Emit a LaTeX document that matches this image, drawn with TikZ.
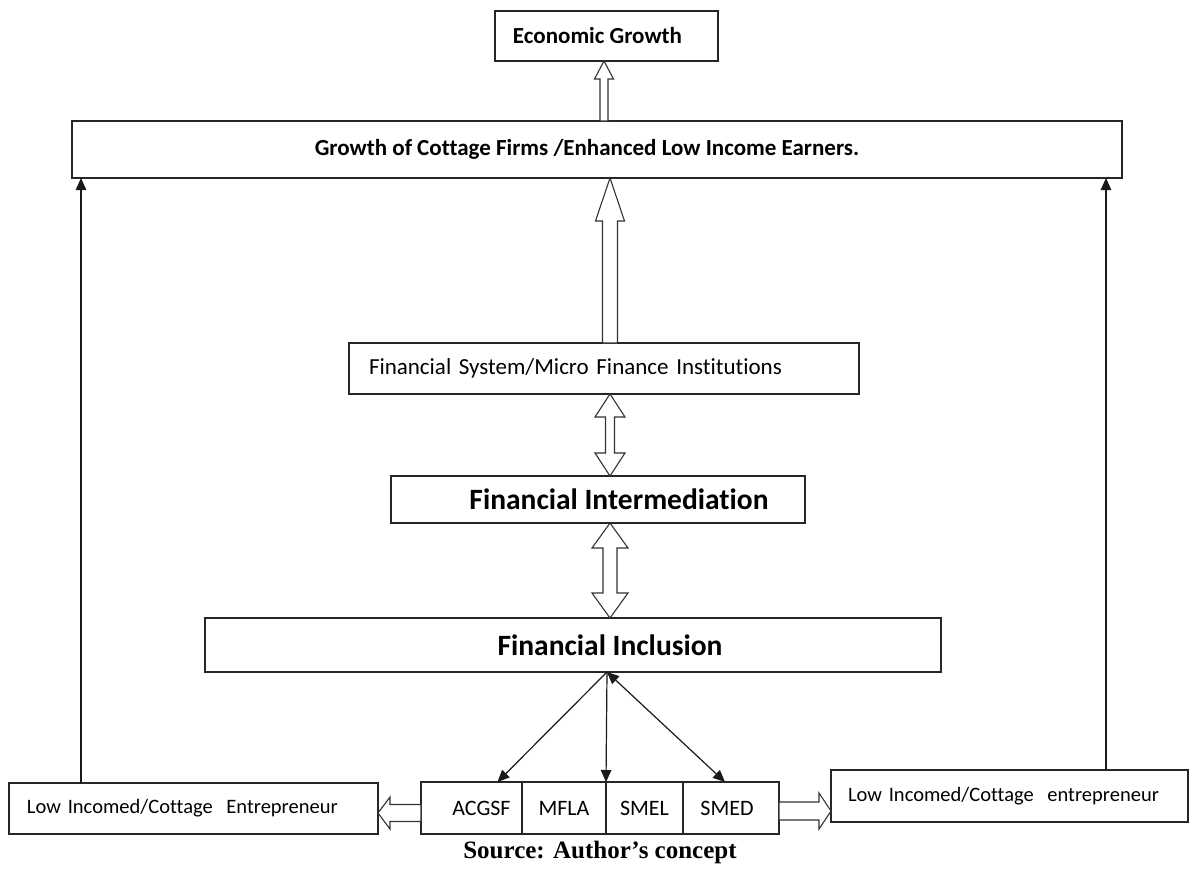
\documentclass[tikz,border=0pt]{standalone}
\usepackage{fontspec}
\setmainfont{Carlito}[Ligatures=NoCommon]
\newfontfamily\srcfont{Liberation Serif}
\usetikzlibrary{arrows.meta,positioning,calc}

\tikzset{hollow/.style={draw=black!80, fill=white, line width=1.1pt, line join=miter}}

% block arrows: #1 tail, #2 tip, #3 half shaft, #4 half head, #5 head length
\newcommand{\upblock}[5]{%
  \draw[hollow] let \p1=(#1), \p2=(#2) in
    (\x1-#3pt,\y1) -- (\x1-#3pt,\y2-#5pt) -- (\x1-#4pt,\y2-#5pt) -- (\x1,\y2)
    -- (\x1+#4pt,\y2-#5pt) -- (\x1+#3pt,\y2-#5pt) -- (\x1+#3pt,\y1) -- cycle;}
\newcommand{\updownblock}[5]{%
  \draw[hollow] let \p1=(#1), \p2=(#2) in
    (\x1,\y1) -- (\x1-#4pt,\y1+#5pt) -- (\x1-#3pt,\y1+#5pt) -- (\x1-#3pt,\y2-#5pt)
    -- (\x1-#4pt,\y2-#5pt) -- (\x1,\y2) -- (\x1+#4pt,\y2-#5pt) -- (\x1+#3pt,\y2-#5pt)
    -- (\x1+#3pt,\y1+#5pt) -- (\x1+#4pt,\y1+#5pt) -- cycle;}
\newcommand{\leftblock}[5]{%
  \draw[hollow] let \p1=(#1), \p2=(#2) in
    (\x1,\y1-#3pt) -- (\x2+#5pt,\y1-#3pt) -- (\x2+#5pt,\y1-#4pt) -- (\x2,\y1)
    -- (\x2+#5pt,\y1+#4pt) -- (\x2+#5pt,\y1+#3pt) -- (\x1,\y1+#3pt) -- cycle;}
\newcommand{\rightblock}[5]{%
  \draw[hollow] let \p1=(#1), \p2=(#2) in
    (\x1,\y1-#3pt) -- (\x2-#5pt,\y1-#3pt) -- (\x2-#5pt,\y1-#4pt) -- (\x2,\y1)
    -- (\x2-#5pt,\y1+#4pt) -- (\x2-#5pt,\y1+#3pt) -- (\x1,\y1+#3pt) -- cycle;}

\begin{document}
\begin{tikzpicture}[x=1pt, y=-1pt,
  boxstyle/.style={draw=black!85, line width=1.2pt, fill=white, inner sep=0pt,
                   outer sep=0pt, align=center},
  cell/.style={boxstyle, minimum height=52pt, font=\fontsize{22}{26}\selectfont},
  arrow/.style={-{Triangle[length=12pt,width=10.5pt]}, line width=1.2pt, color=black!90},
  twoway/.style={{Triangle[length=12pt,width=10.5pt]}-{Triangle[length=12pt,width=10.5pt]},
                 line width=1.2pt, color=black!90}
]
\useasboundingbox (0,0) rectangle (1196,870);
\fill[white] (0,0) rectangle (1196,870);
\coordinate (spine) at (610,0);

% top of the chain
\node[boxstyle, minimum width=223pt, minimum height=50pt,
      font=\fontsize{23}{27}\selectfont\bfseries] (econ) at (606.5,36)
      {Economic Growth\hspace*{18pt}};
\node[boxstyle, minimum width=1050pt, minimum height=57pt,
      font=\fontsize{23}{27}\selectfont\bfseries] (growth) at (597,149.5)
      {Growth of Cottage Firms /Enhanced Low Income Earners.\hspace*{20pt}};

% middle of the chain
\node[boxstyle, minimum width=510pt, minimum height=51pt, text width=470pt, align=left,
      font=\fontsize{23}{27}\selectfont] (finsys) at (604,368.5)
      {Financial System/Micro Finance Institutions};
\node[boxstyle, minimum width=414pt, minimum height=47pt,
      font=\fontsize{29.5}{34}\selectfont\bfseries] (interm) at (598,499.5)
      {\hspace*{42pt}Financial Intermediation};
\node[boxstyle, minimum width=736pt, minimum height=54pt,
      font=\fontsize{29.5}{34}\selectfont\bfseries] (inclusion) at (573,645)
      {\hspace*{74pt}Financial Inclusion};

% schemes
\node[cell, minimum width=101pt] (acgsf) at (471.5,808) {\hspace*{20pt}ACGSF};
\node[cell, minimum width=84pt, right=0pt of acgsf] (mfla) {MFLA};
\node[cell, minimum width=77pt, right=0pt of mfla] (smel) {SMEL};
\node[cell, minimum width=96pt, right=0pt of smel] (smed) {SMED\hspace*{8pt}};

% entrepreneurs
\node[boxstyle, minimum width=369pt, minimum height=51pt, text width=333pt, align=left,
      font=\fontsize{20.5}{24}\selectfont] (lowleft) at (193.5,808.5)
      {Low Incomed/Cottage\ \ Entrepreneur};
\node[boxstyle, minimum width=357pt, minimum height=52pt, text width=323pt, align=left,
      font=\fontsize{20.5}{24}\selectfont] (lowright) at (1009.5,796)
      {Low Incomed/Cottage\ \ entrepreneur};

\node[font=\srcfont\fontsize{25}{29}\selectfont\bfseries] (src) at (600,852)
      {Source: Author’s concept};

% block arrows
\upblock{[xshift=-2.5pt]econ.south |- growth.north}{[xshift=-2.5pt]econ.south}{4}{9.5}{18}
\upblock{finsys.north -| spine}{growth.south -| spine}{7.5}{14.5}{43}
\updownblock{interm.north -| spine}{finsys.south -| spine}{4.5}{15}{23}
\updownblock{inclusion.north -| spine}{interm.south -| spine}{7}{18}{25}
\leftblock{[yshift=-5pt]acgsf.west}{lowleft.east}{8.5}{16}{12}
\rightblock{[yshift=-3pt]smed.east}{lowright.west}{9}{18}{12}

% thin connectors
\coordinate (fan) at ([xshift=-3pt]inclusion.south -| spine);
\draw[arrow] (fan) -- ([xshift=26pt]acgsf.north);
\draw[arrow] (fan) -- (mfla.north east);
\draw[twoway] (fan) -- ([xshift=-6pt]smed.north);
\draw[arrow] ([xshift=72pt]lowleft.north west) -- ([xshift=72pt]lowleft.north west |- growth.south);
\draw[arrow] ([xshift=275pt]lowright.north west) -- ([xshift=275pt]lowright.north west |- growth.south);
\end{tikzpicture}
\end{document}
